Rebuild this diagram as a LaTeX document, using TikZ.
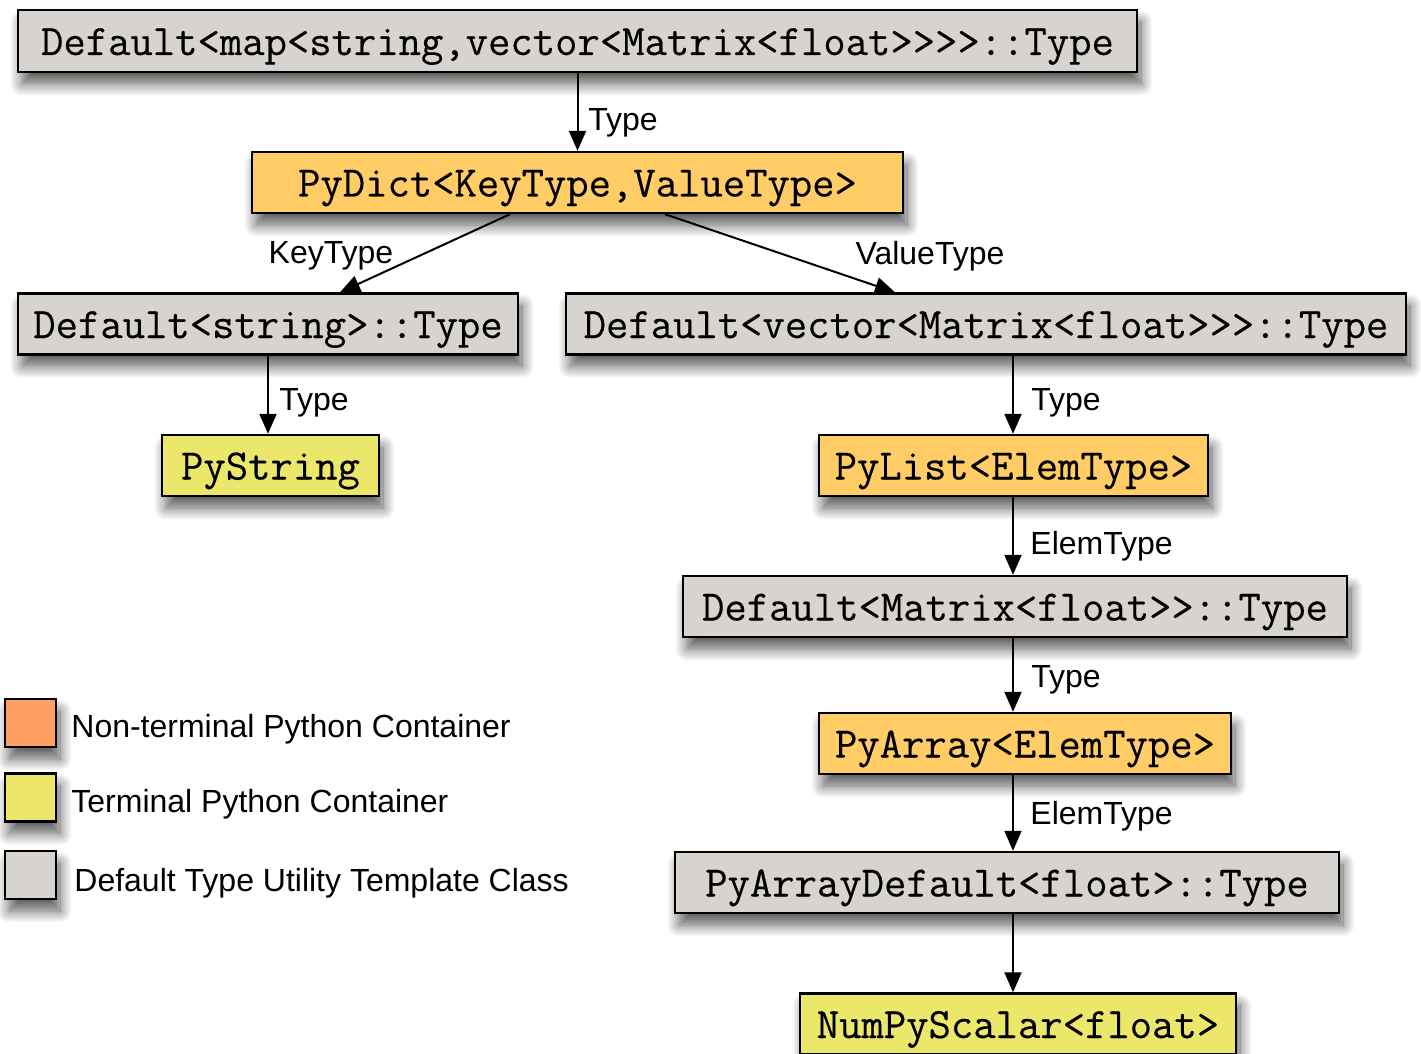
\documentclass[tikz,border=0pt]{standalone}
\usepackage{fontspec}
\setmainfont{Liberation Sans}
\newfontfamily\codefont{Latin Modern Mono}[FakeBold=0.3]
\usetikzlibrary{arrows.meta,shadows.blur}

\definecolor{defgray}{HTML}{D7D3CF}
\definecolor{ntorange}{HTML}{FFCC66}
\definecolor{termyellow}{HTML}{EBE76A}
\definecolor{legorange}{HTML}{FFA062}

\tikzset{
  box/.style={draw=black, line width=1.2pt, rectangle, inner sep=0pt,
    minimum height=30.5pt, text height=14pt, text depth=0pt,
    font=\fontsize{21.7}{23}\codefont,
    blur shadow={shadow xshift=2pt, shadow yshift=-6pt,
      shadow blur radius=6pt, shadow blur steps=14, shadow opacity=65}},
  utilbox/.style={box, fill=defgray},
  ntbox/.style={box, fill=ntorange},
  termbox/.style={box, fill=termyellow},
  legbox/.style={box, minimum width=25.5pt, minimum height=24pt},
  arr/.style={-{Triangle[length=10pt,width=8.5pt]}, line width=1pt},
  lbl/.style={font=\fontsize{16}{18}\selectfont, inner sep=0pt, anchor=west},
  legtext/.style={font=\fontsize{16}{18}\selectfont, inner sep=0pt, anchor=west},
}

\begin{document}
\begin{tikzpicture}[x=0.5pt,y=-0.5pt]
\useasboundingbox (0,0) rectangle (1421,1054);

% type nodes
\node[utilbox, minimum width=559.5pt, minimum height=31pt] (map) at (577.5,41)
  {Default<map<string,vector<Matrix<float>{}>{}>{}>::Type};
\node[ntbox, minimum width=325.5pt] (dict) at (577.5,182.5)
  {PyDict<KeyType,ValueType>};
\node[utilbox, minimum width=250pt] (str) at (268,324)
  {Default<string>::Type};
\node[utilbox, minimum width=420pt] (vec) at (986,324)
  {Default<vector<Matrix<float>{}>{}>::Type};
\node[termbox, minimum width=108.5pt] (pystr) at (270.5,465.5)
  {PyString};
\node[ntbox, minimum width=194.5pt] (list) at (1013.5,465.5)
  {PyList<ElemType>};
\node[utilbox, minimum width=332pt] (mat) at (1015,606.5)
  {Default<Matrix<float>{}>::Type};
\node[ntbox, minimum width=206pt] (arr) at (1025,743.5)
  {PyArray<ElemType>};
\node[utilbox, minimum width=332pt] (adef) at (1007,882.5)
  {PyArrayDefault<float>::Type};
\node[termbox, minimum width=218pt] (scal) at (1018,1024)
  {NumPyScalar<float>};

% column of the right-hand chain
\coordinate (col) at (1013,0);

% connectors
\draw[arr] (map.south) -- (dict.north);
\draw[arr] ([xshift=-33.75pt]dict.south) -- ([xshift=36pt]str.north);
\draw[arr] ([xshift=43.75pt]dict.south) -- ([xshift=-45.5pt]vec.north);
\draw[arr] (str.south) -- (str.south |- pystr.north);
\draw[arr] (vec.south -| col) -- (list.north -| col);
\draw[arr] (list.south -| col) -- (mat.north -| col);
\draw[arr] (mat.south -| col) -- (arr.north -| col);
\draw[arr] (arr.south -| col) -- (adef.north -| col);
\draw[arr] (adef.south -| col) -- (scal.north -| col);

% connector labels
\node[lbl] (l1) at (588,123) {Type};
\node[lbl, anchor=center] (l2) at (331,256) {KeyType};
\node[lbl, anchor=center] (l3) at (930,256) {ValueType};
\node[lbl] (l4) at (279,403) {Type};
\node[lbl] (l5) at (1031,403) {Type};
\node[lbl] (l6) at (1030,546) {ElemType};
\node[lbl] (l7) at (1031,680) {Type};
\node[lbl] (l8) at (1030,816) {ElemType};

% legend
\node[legbox, fill=legorange] (k1) at (30.5,723) {};
\node[legbox, fill=termyellow] (k2) at (30.5,797.5) {};
\node[legbox, fill=defgray] (k3) at (30.5,875) {};
\node[legtext] (t1) at (71,729) {Non-terminal Python Container};
\node[legtext] (t2) at (71,804) {Terminal Python Container};
\node[legtext] (t3) at (74,883) {Default Type Utility Template Class};
\end{tikzpicture}
\end{document}
